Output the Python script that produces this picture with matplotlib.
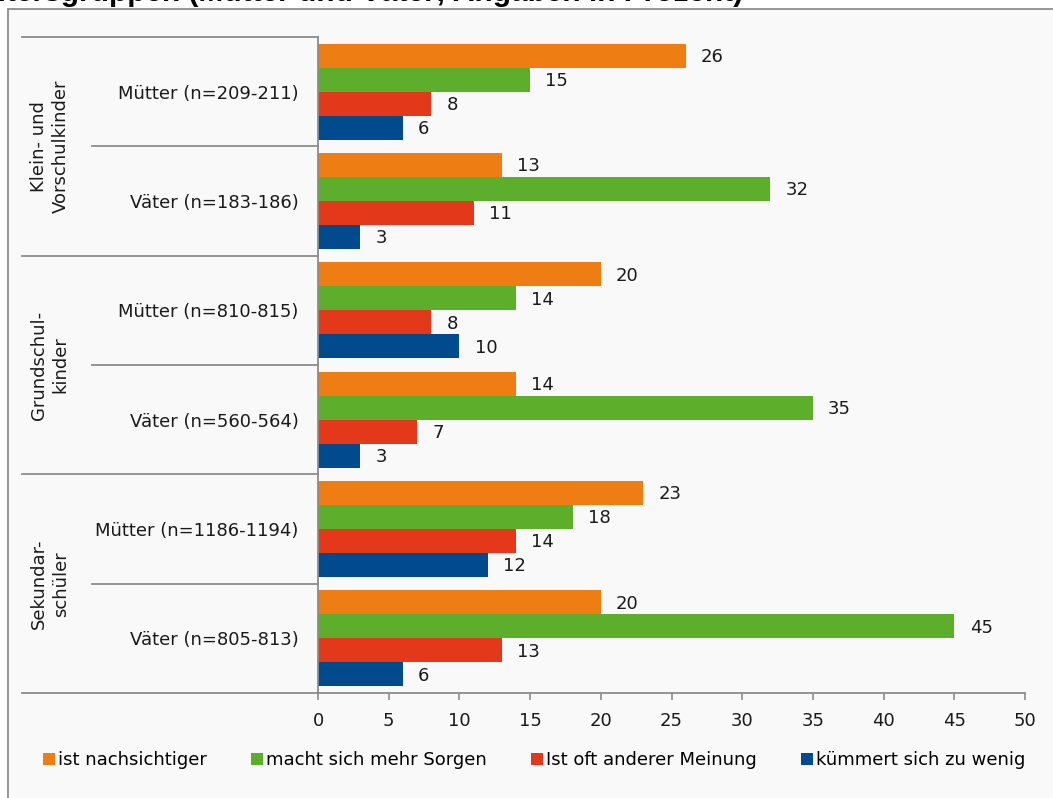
import matplotlib
matplotlib.use("Agg")
import matplotlib.pyplot as plt
from matplotlib.patches import Rectangle, Patch
import matplotlib.transforms as mtransforms
import numpy as np

plt.rcParams['font.family'] = ['DejaVu Sans']

title = "Altersgruppen (Mütter und Väter; Angaben in Prozent)"
categories = ["Mütter (n=209-211)", "Väter (n=183-186)",
              "Mütter (n=810-815)", "Väter (n=560-564)",
              "Mütter (n=1186-1194)", "Väter (n=805-813)"]
groups = ["Klein- und\nVorschulkinder", "Grundschul-\nkinder", "Sekundar-\nschüler"]
series_names = ["ist nachsichtiger", "macht sich mehr Sorgen",
                "Ist oft anderer Meinung", "kümmert sich zu wenig"]
nachsichtiger = [26, 13, 20, 14, 23, 20]
sorgen = [15, 32, 14, 35, 18, 45]
meinung = [8, 11, 8, 7, 14, 13]
wenig = [6, 3, 10, 3, 12, 6]
xticks = [0, 5, 10, 15, 20, 25, 30, 35, 40, 45, 50]

colors = ['#EE7D14', '#5DAF2B', '#E3381A', '#014A8D']
series = [nachsichtiger, sorgen, meinung, wenig]

W, H = 1053, 798
FS = 13
fig = plt.figure(figsize=(W / 100, H / 100), dpi=100)
fig.patch.set_facecolor('white')

# background box
fig.patches.append(Rectangle((7.5 / W, -0.1), 1.2, 1.1 - 9.5 / H,
                             transform=fig.transFigure, facecolor='#F9F9F9',
                             edgecolor='#8C8C8C', linewidth=1.3, zorder=-10))
fig.text(-24 / W, 1 - 1 / H, title, fontsize=21.5, fontweight='bold',
         ha='left', va='baseline', family='Liberation Sans')

x0, x1 = 318, 1025
y0, y1 = 37, 693
ax = fig.add_axes([x0 / W, 1 - y1 / H, (x1 - x0) / W, (y1 - y0) / H])
ax.set_facecolor('none')

n = len(categories)
ypos = np.arange(n)
bh = 0.22
for k, (vals, col) in enumerate(zip(series, colors)):
    off = (k - 1.5) * bh
    bars = ax.barh(ypos + off, vals, height=bh, color=col, label=series_names[k],
                   edgecolor='none')
    for b, v in zip(bars, vals):
        ax.annotate(str(v), (v, b.get_y() + b.get_height() / 2),
                    xytext=(11, -1), textcoords='offset points',
                    ha='left', va='center', fontsize=FS, color='#1a1a1a')

ax.set_ylim(n - 0.5, -0.5)
ax.set_xlim(0, 50)
ax.set_xticks(xticks)
ax.set_xticklabels([str(t) for t in xticks], fontsize=FS, color='#1a1a1a')
ax.tick_params(axis='x', length=5, width=1.2, color='#8C8C8C', pad=9)
ax.set_yticks(ypos)
ax.set_yticklabels(categories, fontsize=FS, color='#1a1a1a')
ax.tick_params(axis='y', length=0, pad=14)
for s in ['top', 'right']:
    ax.spines[s].set_visible(False)
for s in ['left', 'bottom']:
    ax.spines[s].set_color('#8C8C8C')
    ax.spines[s].set_linewidth(1.3)

# category grouping lines
trans = mtransforms.blended_transform_factory(ax.transAxes, ax.transData)
xl_outer = (22 - x0) / (x1 - x0)
xl_inner = (92 - x0) / (x1 - x0)
for i in range(n + 1):
    yb = i - 0.5
    xs = xl_outer if i % 2 == 0 else xl_inner
    ax.plot([xs, 0], [yb, yb], transform=trans, color='#8C8C8C', lw=1.3,
            clip_on=False)
for g, name in enumerate(groups):
    ax.text((50 - x0) / (x1 - x0), 2 * g + 0.5, name, transform=trans,
            rotation=90, ha='center', va='center', fontsize=FS,
            color='#1a1a1a', multialignment='center', linespacing=1.25)

handles = [Patch(facecolor=c, edgecolor='none') for c in colors]
fig.legend(handles, series_names, loc='center left',
           bbox_to_anchor=(43 / W, 1 - 760 / H), ncol=4, frameon=False,
           fontsize=FS, handlelength=0.66, handleheight=0.66,
           handletextpad=0.17, columnspacing=2.45, borderaxespad=0,
           borderpad=0)

fig.savefig('out.png', dpi=100, facecolor='white')
